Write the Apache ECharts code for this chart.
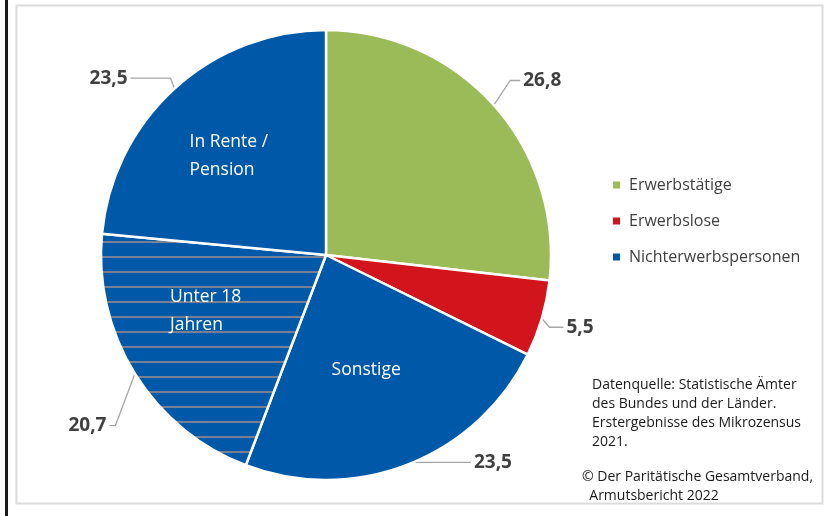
<!DOCTYPE html>
<html>
  <head>
    <meta charset="UTF-8">
    <title>Armutsbericht 2022</title>
    <script src="https://cdn.jsdelivr.net/npm/echarts@6/dist/echarts.min.js"></script>
    <style>
    * {
      margin: 0;
      padding: 0;
    }
    body {
      background: #fff;
    }
    </style>
  </head>
  <body>
    <div id="main" style="width: 831px;height: 516px"></div>

    <script>
// Anteile in Prozent, im Uhrzeigersinn ab 12 Uhr
var groups = ['Erwerbstätige', 'Erwerbslose', 'Nichterwerbspersonen', 'Nichterwerbspersonen', 'Nichterwerbspersonen']
var subLabels = ['', '', 'Sonstige', 'Unter 18\nJahren', 'In Rente /\nPension']
var shares = [26.8, 5.5, 23.5, 20.7, 23.5]
var legendNames = ['Erwerbstätige', 'Erwerbslose', 'Nichterwerbspersonen']
var sourceLines = [
  'Datenquelle: Statistische Ämter',
  'des Bundes und der Länder.',
  'Erstergebnisse des Mikrozensus',
  '2021.'
]
var creditLines = ['© Der Paritätische Gesamtverband,', 'Armutsbericht 2022']

var GREEN = '#9bbb59'
var RED = '#d2141c'
var BLUE = '#0058a8'
var FONT = '"Open Sans", sans-serif'

// blau mit grauen Querlinien (Unter 18 Jahren)
function hatch() {
  var c = document.createElement('canvas')
  c.width = 15
  c.height = 15
  var ctx = c.getContext('2d')
  ctx.fillStyle = BLUE
  ctx.fillRect(0, 0, 15, 15)
  ctx.fillStyle = '#768093'
  ctx.fillRect(0, 1, 15, 2)
  return { image: c, repeat: 'repeat' }
}

var fills = [GREEN, RED, BLUE, hatch(), BLUE]
// Beschriftung: Linienlaengen und kleine Verschiebungen
var lineLens = [[22, 10], [10, 14], [2, 60], [30, 6], [6, 40]]
var labelShift = [[0, -10], [-2, 6], [2, -4], [6, 36], [0, -6]]
var innerShift = [[0, 0], [0, 0], [0, -9], [0, -14], [-4, -1]]

function fmt(v) {
  return v.toFixed(1).replace('.', ',')
}

var mainData = shares.map(function (v, i) {
  return {
    name: groups[i],
    value: v,
    itemStyle: { color: fills[i] },
    labelLine: { length: lineLens[i][0], length2: lineLens[i][1] }
  }
})
var innerData = shares.map(function (v, i) {
  return { name: subLabels[i], value: v, label: { offset: innerShift[i] } }
})

var myChart = echarts.init(document.getElementById('main'))
var option = {
  backgroundColor: '#fff',
  animation: false,
  color: [GREEN, RED, BLUE],
  legend: {
    data: legendNames,
    orient: 'vertical',
    left: 606,
    top: 171,
    icon: 'rect',
    itemWidth: 9,
    itemHeight: 9,
    itemGap: 18,
    selectedMode: false,
    textStyle: {
      fontFamily: FONT,
      fontSize: 16,
      color: '#404040',
      lineHeight: 18,
      padding: [0, 0, 0, 3]
    }
  },
  graphic: [
    {
      type: 'rect',
      shape: { x: 5, y: 0, width: 3, height: 516 },
      style: { fill: '#1a1a1a' },
      silent: true
    },
    {
      type: 'rect',
      shape: { x: 16.5, y: 5.5, width: 806, height: 498 },
      style: { fill: 'none', stroke: '#dcdcdc', lineWidth: 2 },
      silent: true
    },
    {
      type: 'text',
      left: 592,
      top: 376,
      style: {
        text: sourceLines.join('\n'),
        font: '14px ' + FONT,
        fill: '#1a1a1a',
        lineHeight: 19
      }
    },
    {
      type: 'text',
      left: 582,
      top: 468,
      style: {
        text: creditLines.join('\n  '),
        font: '14px ' + FONT,
        fill: '#1a1a1a',
        lineHeight: 19
      }
    }
  ],
  series: [
    {
      type: 'pie',
      center: [326, 255],
      radius: 225,
      startAngle: 90,
      clockwise: true,
      avoidLabelOverlap: false,
      emphasis: { disabled: true },
      itemStyle: { borderColor: '#fff', borderWidth: 2.5 },
      label: {
        show: true,
        position: 'outside',
        formatter: function (p) { return fmt(p.value) },
        fontFamily: FONT,
        fontSize: 19,
        fontWeight: 'bold',
        color: '#404040',
        distanceToLabelLine: 3
      },
      labelLine: {
        show: true,
        lineStyle: { color: '#a6a6a6', width: 1.3 }
      },
      labelLayout: function (p) {
        var d = labelShift[p.dataIndex]
        var out = { dx: d[0], dy: d[1] }
        if (p.labelLinePoints) {
          // Knick und Ende der Linie mit der Beschriftung mitziehen
          out.labelLinePoints = p.labelLinePoints.map(function (pt, k) {
            return k === 0 ? pt : [pt[0] + d[0], pt[1] + d[1]]
          })
        }
        return out
      },
      data: mainData
    },
    {
      type: 'pie',
      center: [326, 255],
      radius: [90, 170],
      startAngle: 90,
      clockwise: true,
      silent: true,
      avoidLabelOverlap: false,
      emphasis: { disabled: true },
      itemStyle: { color: 'transparent' },
      label: {
        show: true,
        position: 'inside',
        width: 86,
        formatter: function (p) {
          if (!p.name) return ''
          return p.name.split('\n').map(function (s) { return '{t|' + s + '}' }).join('\n')
        },
        rich: {
          t: {
            align: 'left',
            color: '#fff',
            fontFamily: FONT,
            fontSize: 17.5,
            lineHeight: 28
          }
        }
      },
      labelLine: { show: false },
      data: innerData
    }
  ]
}
myChart.setOption(option)
    </script>
  </body>
</html>
